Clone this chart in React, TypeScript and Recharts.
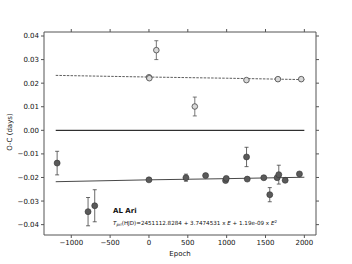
import React from "react";
import {
  ComposedChart,
  XAxis,
  YAxis,
  Scatter,
  Line,
  ErrorBar,
} from "recharts";

const xTicks = [-1000, -500, 0, 500, 1000, 1500, 2000];
const yTicks = [-0.04, -0.03, -0.02, -0.01, 0, 0.01, 0.02, 0.03, 0.04];

const primaryEpochs = [0, 5, 95, 590, 1255, 1660, 1960];
const primaryOC = [0.0225, 0.0221, 0.034, 0.0101, 0.0213, 0.0217, 0.0217];
const primaryErr = [0, 0, 0.004, 0.004, 0, 0, 0];

const secondaryEpochs = [-1182, -784, -698, 0, 476, 729, 986, 995, 1256, 1265, 1478, 1555, 1650, 1671, 1753, 1937];
const secondaryOC = [-0.0139, -0.0345, -0.032, -0.021, -0.0201, -0.0192, -0.0213, -0.0204, -0.0113, -0.0207, -0.0201, -0.0273, -0.0201, -0.0188, -0.0212, -0.0185];
const secondaryErr = [0.005, 0.006, 0.0068, 0, 0.0015, 0, 0, 0, 0.0041, 0, 0, 0.003, 0, 0.004, 0, 0];

const fitEpochs = [-1200, 0, 1000, 2000];
const primaryFit = [0.0233, 0.0226, 0.0221, 0.0215];
const secondaryFit = [-0.0218, -0.021, -0.0205, -0.0199];
const zeroEpochs = [-1200, 2000];
const zeroOC = [0, 0];

const primaryData = primaryEpochs.map((x, i) => ({ x, y: primaryOC[i], err: primaryErr[i] }));
const secondaryData = secondaryEpochs.map((x, i) => ({ x, y: secondaryOC[i], err: secondaryErr[i] }));
const primaryFitData = fitEpochs.map((x, i) => ({ x, y: primaryFit[i] }));
const secondaryFitData = fitEpochs.map((x, i) => ({ x, y: secondaryFit[i] }));
const zeroData = zeroEpochs.map((x, i) => ({ x, y: zeroOC[i] }));

const FONT = "DejaVu Sans";

const fmtY = (v: number) => {
  const s = Math.abs(v).toFixed(2);
  return v < -1e-9 ? "\u2212" + s : s;
};
const fmtX = (v: number) => (v < 0 ? "\u2212" + Math.abs(v) : String(v));

const OpenDot = (props: any) => {
  const { cx, cy } = props;
  if (cx == null || cy == null) return <g />;
  return <circle cx={cx} cy={cy} r={2.8} fill="#d8d8d8" stroke="#444" strokeWidth={0.8} />;
};
const FilledDot = (props: any) => {
  const { cx, cy } = props;
  if (cx == null || cy == null) return <g />;
  return <circle cx={cx} cy={cy} r={3} fill="#5a5a5a" stroke="#333" strokeWidth={0.6} />;
};
const Empty = () => <g />;

export default function App() {
  const tickStyle = { fontSize: 7, fill: "#111", fontFamily: FONT };
  return (
    <div style={{ position: "absolute", left: 0, top: 0, width: 352, height: 264, background: "#fff" }}>
      <ComposedChart
        width={352}
        height={264}
        margin={{ top: 31, right: 35, bottom: 9, left: 4 }}
      >
        <XAxis
          xAxisId="b"
          dataKey="x"
          type="number"
          domain={[-1351, 2150]}
          ticks={xTicks}
          tickFormatter={fmtX}
          height={20}
          tickSize={3}
          tickMargin={2}
          stroke="#555"
          tick={tickStyle}
          interval={0}
          allowDataOverflow
        />
        <XAxis
          xAxisId="t"
          orientation="top"
          dataKey="x"
          type="number"
          domain={[-1351, 2150]}
          ticks={xTicks}
          height={1}
          tickSize={3}
          stroke="#555"
          tick={Empty}
          interval={0}
          allowDataOverflow
        />
        <YAxis
          yAxisId="l"
          type="number"
          domain={[-0.0444, 0.0417]}
          ticks={yTicks}
          tickFormatter={fmtY}
          width={40}
          tickSize={3}
          tickMargin={2}
          stroke="#555"
          tick={tickStyle}
          interval={0}
          allowDataOverflow
        />
        <YAxis
          yAxisId="r"
          orientation="right"
          type="number"
          domain={[-0.0444, 0.0417]}
          ticks={yTicks}
          width={1}
          tickSize={3}
          stroke="#555"
          tick={Empty}
          interval={0}
          allowDataOverflow
        />
        <Line
          xAxisId="b"
          yAxisId="l"
          data={zeroData}
          dataKey="y"
          stroke="#000"
          strokeWidth={1}
          dot={false}
          isAnimationActive={false}
        />
        <Line
          xAxisId="b"
          yAxisId="l"
          data={primaryFitData}
          dataKey="y"
          stroke="#333"
          strokeWidth={0.8}
          strokeDasharray="2.5 1.2"
          dot={false}
          type="linear"
          isAnimationActive={false}
        />
        <Line
          xAxisId="b"
          yAxisId="l"
          data={secondaryFitData}
          dataKey="y"
          stroke="#333"
          strokeWidth={0.9}
          dot={false}
          type="linear"
          isAnimationActive={false}
        />
        <Scatter
          xAxisId="b"
          yAxisId="l"
          data={primaryData}
          dataKey="y"
          shape={OpenDot}
          isAnimationActive={false}
        >
          <ErrorBar dataKey="err" direction="y" stroke="#555" strokeWidth={0.8} width={2} />
        </Scatter>
        <Scatter
          xAxisId="b"
          yAxisId="l"
          data={secondaryData}
          dataKey="y"
          shape={FilledDot}
          isAnimationActive={false}
        >
          <ErrorBar dataKey="err" direction="y" stroke="#444" strokeWidth={0.8} width={2} />
        </Scatter>
      </ComposedChart>
      <svg
        width={352}
        height={264}
        style={{ position: "absolute", left: 0, top: 0, pointerEvents: "none" }}
      >
        <text
          x={10}
          y={132}
          transform="rotate(-90 10 132)"
          textAnchor="middle"
          dominantBaseline="middle"
          fontSize={7}
          fontFamily={FONT}
          fill="#111"
        >
          O-C (days)
        </text>
        <text x={180} y={256} textAnchor="middle" fontSize={7} fontFamily={FONT} fill="#111">
          Epoch
        </text>
        <text x={113} y={213} fontSize={7} fontWeight="bold" fontFamily={FONT} fill="#111">
          AL Ari
        </text>
        <text x={113} y={225} fontSize={5.6} fontFamily={FONT} fill="#111">
          <tspan fontStyle="italic">T</tspan>
          <tspan fontStyle="italic" fontSize={4} dy={1.2}>pri</tspan>
          <tspan dy={-1.2}>(HJD)=2451112.8284 + 3.7474531 x </tspan>
          <tspan fontStyle="italic">E</tspan>
          <tspan> + 1.19e-09 x </tspan>
          <tspan fontStyle="italic">E</tspan>
          <tspan fontSize={4} dy={-2}>2</tspan>
        </text>
      </svg>
    </div>
  );
}
